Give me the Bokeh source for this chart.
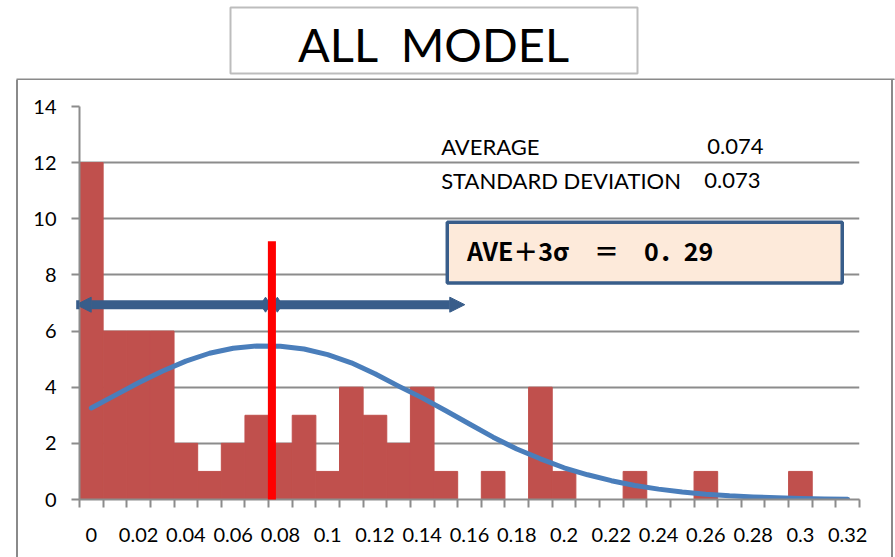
from bokeh.plotting import figure
from bokeh.layouts import column, row
from bokeh.models import (FixedTicker, BoxAnnotation, Label, Arrow, NormalHead,
                          Range1d, Spacer)
from bokeh.core.properties import value
from bokeh.embed import file_html
from bokeh.resources import INLINE

# ---- data ----
bins = [0.00, 0.01, 0.02, 0.03, 0.04, 0.05, 0.06, 0.07, 0.08, 0.09, 0.10,
        0.11, 0.12, 0.13, 0.14, 0.15, 0.16, 0.17, 0.18, 0.19, 0.20, 0.21,
        0.22, 0.23, 0.24, 0.25, 0.26, 0.27, 0.28, 0.29, 0.30, 0.31, 0.32]
counts = [12, 6, 6, 6, 2, 1, 2, 3, 2, 3, 1, 4, 3, 2, 4, 1, 0, 1, 0, 4, 1,
          0, 0, 1, 0, 0, 1, 0, 0, 0, 1, 0, 0]
normal_curve = [3.26, 3.71, 4.16, 4.57, 4.93, 5.21, 5.39, 5.47, 5.46, 5.36,
                5.16, 4.87, 4.48, 4.04, 3.62, 3.16, 2.69, 2.22, 1.80, 1.45,
                1.13, 0.88, 0.67, 0.50, 0.37, 0.27, 0.19, 0.13, 0.09, 0.06,
                0.04, 0.02, 0.01]
tick_values = [0.00, 0.02, 0.04, 0.06, 0.08, 0.10, 0.12, 0.14, 0.16, 0.18,
               0.20, 0.22, 0.24, 0.26, 0.28, 0.30, 0.32]
tick_labels = ["0", "0.02", "0.04", "0.06", "0.08", "0.1", "0.12", "0.14",
               "0.16", "0.18", "0.2", "0.22", "0.24", "0.26", "0.28", "0.3",
               "0.32"]
y_ticks = [0, 2, 4, 6, 8, 10, 12, 14]
title_text = "ALL\u00a0\u00a0MODEL"
average_label, average_value = "AVERAGE", "0.074"
std_label, std_value = "STANDARD DEVIATION", "0.073"
limit_text = "AVE＋3σ　＝　0．29"
mean_marker = 0.0764
arrow_left_end = -0.0064
arrow_right_end = 0.158
arrow_level = 6.94

BAR = "#C0504D"
CURVE = "#4A7EBB"
DARK = "#385D8A"
GRID = "#8C8C8C"
FRAME = "#8A8A8A"
FONT = "Lato"

# ---- title strip (pixel-like coordinates, y downward) ----
top = figure(width=895, height=80, output_backend="svg", toolbar_location=None,
             title=None, x_range=Range1d(0, 895), y_range=Range1d(80, 0),
             x_axis_type=None, y_axis_type=None,
             min_border_left=0, min_border_right=0,
             min_border_top=0, min_border_bottom=0)
top.outline_line_color = None
top.background_fill_color = "white"
top.border_fill_color = "white"
top.xgrid.visible = False
top.ygrid.visible = False
top.quad(left=[230], right=[637], top=[7], bottom=[73],
         fill_color="white", line_color="#BDBDBD", line_width=2)
top.text(x=[433], y=[43.7], text=[title_text], text_align="center",
         text_baseline="middle", text_font=value(FONT),
         text_font_size="47px", text_color="black")
top.segment(x0=[16], y0=[79], x1=[894], y1=[79], line_color=FRAME,
            line_width=2)
top.segment(x0=[17, 893], y0=[79, 79], x1=[17, 893], y1=[81, 81],
            line_color=FRAME, line_width=2)

# ---- outer frame sides as thin grey spacers ----
gap_left = Spacer(width=16, height=477)
side_left = Spacer(width=2, height=477, styles={"background-color": FRAME})
side_right = Spacer(width=2, height=477, styles={"background-color": FRAME})
gap_right = Spacer(width=2, height=477)

# ---- main chart ----
half = 0.005
p = figure(width=873, height=477, output_backend="svg", toolbar_location=None,
           title=None,
           x_range=Range1d(bins[0] - half, bins[-1] + half),
           y_range=Range1d(0, 14),
           min_border_left=61, min_border_right=32,
           min_border_top=26, min_border_bottom=58)
p.outline_line_color = None
p.background_fill_color = "white"
p.border_fill_color = "white"

p.vbar(x=bins, top=counts, width=0.01, fill_color=BAR, line_color=BAR,
       line_width=1)
p.line(bins, normal_curve, line_color=CURVE, line_width=5,
       line_cap="round", line_join="round")

edges = [b - half for b in bins] + [bins[-1] + half]
p.xaxis.ticker = FixedTicker(ticks=tick_values, minor_ticks=edges)
p.xaxis.major_label_overrides = {v: l for v, l in zip(tick_values, tick_labels)}
p.xaxis.major_tick_out = 0
p.xaxis.major_tick_in = 0
p.xaxis.minor_tick_out = 8
p.xaxis.minor_tick_in = 0
p.xaxis.minor_tick_line_color = GRID
p.xaxis.minor_tick_line_width = 2
p.xaxis.major_label_standoff = 20
p.yaxis.ticker = FixedTicker(ticks=y_ticks)
p.yaxis.major_tick_out = 8
p.yaxis.major_tick_in = 0
p.yaxis.major_label_standoff = 15
for ax in (p.xaxis, p.yaxis):
    ax.axis_line_color = GRID
    ax.axis_line_width = 2
    ax.major_tick_line_color = GRID
    ax.major_tick_line_width = 2
    ax.major_label_text_font = FONT
    ax.major_label_text_font_size = "20px"
    ax.major_label_text_color = "black"
p.xgrid.visible = False
p.ygrid.grid_line_color = GRID
p.ygrid.grid_line_width = 2

# statistics text
for txt, xx, yy, al in ((average_label, 0.148, 12.587, "left"),
                        (average_value, 0.2844, 12.587, "right"),
                        (std_label, 0.148, 11.364, "left"),
                        (std_value, 0.2831, 11.364, "right")):
    p.add_layout(Label(x=xx, y=yy, text=txt, text_font=FONT,
                       text_font_size="22px", text_baseline="middle",
                       text_align=al, text_color="black"))

# AVE + 3 sigma box
p.add_layout(BoxAnnotation(left=0.1506, right=0.3177, top=9.88, bottom=7.71,
                           fill_color="#FDEADA", fill_alpha=1,
                           line_color=DARK, line_alpha=1, line_width=3.5))
p.add_layout(Label(x=0.1589, y=8.871, text=limit_text,
                   text_font="Noto Sans CJK JP", text_font_style="bold",
                   text_font_size="25px", text_baseline="middle",
                   text_color="black"))

# arrows
p.scatter([mean_marker - 0.0027, mean_marker + 0.0023], [arrow_level, arrow_level],
          marker="diamond", size=15, color=DARK)
for end in (arrow_left_end, arrow_right_end):
    p.add_layout(Arrow(x_start=mean_marker, y_start=arrow_level,
                       x_end=end, y_end=arrow_level,
                       line_color=DARK, line_width=9,
                       end=NormalHead(size=15, fill_color=DARK,
                                      line_color=DARK, line_width=1)))

# mean marker (red vertical line)
p.add_layout(BoxAnnotation(left=mean_marker - 0.0017, right=mean_marker + 0.0017,
                           top=9.20, bottom=-0.18,
                           fill_color="#FF0000", fill_alpha=1,
                           line_color=None))

layout = column(top, row(gap_left, side_left, p, side_right, gap_right))
open("out.html", "w").write(file_html(layout, INLINE))
